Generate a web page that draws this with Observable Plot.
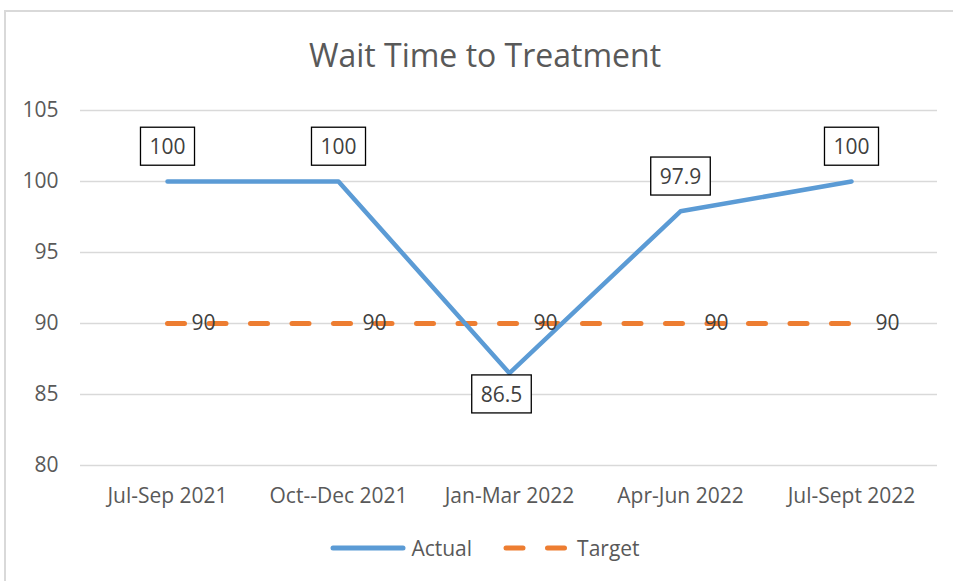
<!DOCTYPE html>
<html><head><meta charset="utf-8">
<script src="https://cdn.jsdelivr.net/npm/d3@7"></script>
<script src="https://cdn.jsdelivr.net/npm/@observablehq/plot@0.6"></script>
<style>
body{margin:0;background:#fff;}
#wrap{position:relative;width:953px;height:581px;overflow:hidden;font-family:"Open Sans",sans-serif;background:#fff;}
#frame{position:absolute;left:4px;top:10px;width:1000px;height:700px;border-left:2px solid #d9d9d9;border-top:2px solid #d9d9d9;}
#title{position:absolute;top:33px;left:4px;width:962px;text-align:center;font-size:32px;line-height:44px;color:#595959;}
#chart{position:absolute;top:90px;left:0;}
#legend{position:absolute;top:533px;left:4px;width:962px;display:flex;justify-content:center;align-items:center;font-size:21px;color:#595959;line-height:30px;}
#legend .item{display:flex;align-items:center;}
#legend svg{display:block;}
</style></head>
<body>
<div id="wrap">
  <div id="frame"></div>
  <div id="title">Wait Time to Treatment</div>
  <div id="chart"></div>
  <div id="legend"></div>
</div>
<script>
const categories = ["Jul-Sep 2021", "Oct--Dec 2021", "Jan-Mar 2022", "Apr-Jun 2022", "Jul-Sept 2022"];
const actual = [100, 100, 86.5, 97.9, 100];
const target = [90, 90, 90, 90, 90];
const yTicks = [80, 85, 90, 95, 100, 105];
const seriesNames = ["Actual", "Target"];
const colors = ["#5B9BD5", "#ED7D31"];

const actualData = categories.map((c, i) => ({cat: c, value: actual[i], target: target[i]}));
const targetData = categories.map((c, i) => ({cat: c, value: target[i]}));
const fmt = v => String(v);

const plot = Plot.plot({
  width: 953, height: 420,
  marginTop: 20, marginBottom: 45, marginLeft: 80, marginRight: 16,
  style: {fontFamily: "'Open Sans', sans-serif", fontSize: "21px", color: "#595959", background: "transparent", overflow: "visible"},
  x: {type: "point", domain: categories, padding: 0.5, label: null, tickSize: 0, tickPadding: 23},
  y: {domain: [80, 105], ticks: yTicks, label: null, tickSize: 0, tickPadding: 22},
  marks: [
    Plot.ruleY(yTicks, {stroke: "#d9d9d9", strokeWidth: 1.5}),
    Plot.line(targetData, {x: "cat", y: "value", stroke: colors[1], strokeWidth: 5, strokeDasharray: "17,24.5", strokeLinecap: "round"}),
    Plot.line(actualData, {x: "cat", y: "value", stroke: colors[0], strokeWidth: 4.5, strokeLinecap: "round", strokeLinejoin: "round"}),
    Plot.text(targetData, {x: "cat", y: "value", text: d => fmt(d.value), dx: 24, textAnchor: "start", fill: "#404040"}),
    Plot.text(actualData.filter(d => d.value >= d.target), {x: "cat", y: "value", text: d => fmt(d.value), dy: -34, fill: "#404040"}),
    Plot.text(actualData.filter(d => d.value < d.target), {x: "cat", y: "value", text: d => fmt(d.value), dx: -8, dy: 22, fill: "#404040"})
  ]
});
document.getElementById("chart").appendChild(plot);

// boxes around value labels (the last two text marks)
const textGroups = plot.querySelectorAll('g[aria-label="text"]');
Array.from(textGroups).slice(1).forEach(g => {
  g.querySelectorAll("text").forEach(t => {
    const bb = t.getBBox();
    const cy = bb.y + bb.height / 2;
    const tr = t.getAttribute("transform");
    const rect = document.createElementNS("http://www.w3.org/2000/svg", "rect");
    rect.setAttribute("x", bb.x - 9);
    rect.setAttribute("y", cy - 19);
    rect.setAttribute("width", bb.width + 18);
    rect.setAttribute("height", 38);
    rect.setAttribute("fill", "#fff");
    rect.setAttribute("stroke", "#000");
    rect.setAttribute("stroke-width", 1.3);
    if (tr) rect.setAttribute("transform", tr);
    g.insertBefore(rect, t);
  });
});

// legend
const legend = d3.select("#legend");
seriesNames.forEach((name, i) => {
  const item = legend.append("div").attr("class", "item").style("margin-right", i === 0 ? "24px" : "0");
  const svg = item.append("svg").attr("width", 76).attr("height", 12);
  const ln = svg.append("line").attr("x1", 3).attr("x2", 73).attr("y1", 6).attr("y2", 6)
    .attr("stroke", colors[i]).attr("stroke-width", 5).attr("stroke-linecap", "round");
  if (i === 1) ln.attr("stroke-dasharray", "17,24.5").attr("x1", 10);
  item.append("span").text(name).style("margin-left", "5px");
});
</script>
</body></html>
